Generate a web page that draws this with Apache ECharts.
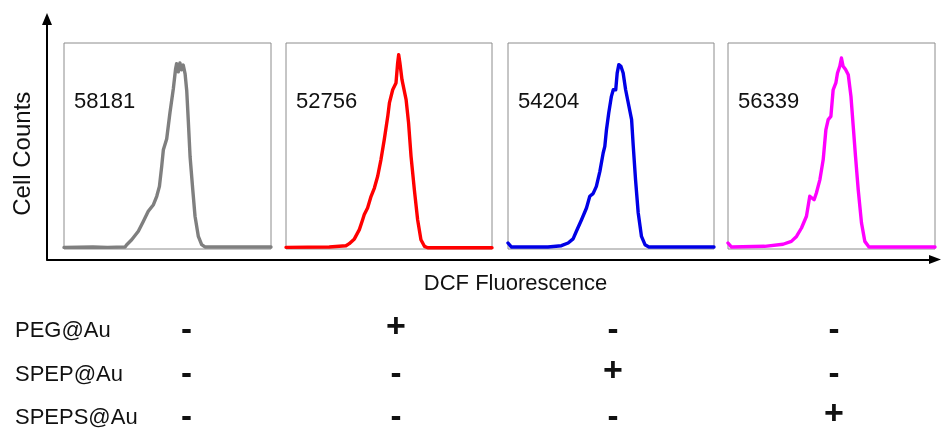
<!DOCTYPE html>
<html>
<head>
<meta charset="utf-8">
<script src="https://cdn.jsdelivr.net/npm/echarts@6/dist/echarts.min.js"></script>
<style>
  html, body { margin: 0; padding: 0; background: #ffffff; }
  #chart { width: 941px; height: 432px; }
</style>
</head>
<body>
<div id="chart"></div>
<script>
// Samples, their mean DCF fluorescence, and the treatment grid below the panels
const sampleNames = ['Control', 'PEG@Au', 'SPEP@Au', 'SPEPS@Au'];
const meanFluorescence = [58181, 52756, 54204, 56339];
const treatmentNames = ['PEG@Au', 'SPEP@Au', 'SPEPS@Au'];
const treatmentPEG = ['-', '+', '-', '-'];
const treatmentSPEP = ['-', '-', '+', '-'];
const treatmentSPEPS = ['-', '-', '-', '+'];

// Histogram traces: [fluorescence channel (% of range), cell count (% of max)]
const controlCurve = [[0,0.8],[14,1.0],[21,0.8],[29.5,1.0],[30.3,2.1],[32.7,4.5],[35.9,8.6],[38.3,13.4],[40.7,18.3],[43.2,21.5],[44.8,25.6],[46.1,30.4],[47.2,40.1],[48.0,48.2],[49.6,53.4],[51.2,66.3],[52.8,77.7],[53.9,87.4],[54.4,90.0],[55.2,86.0],[56.0,90.3],[56.8,87.0],[57.6,89.3],[58.5,85.0],[59.3,76.7],[60.1,61.2],[60.9,44.9],[62.2,28.8],[63.3,15.9],[64.9,6.1],[66.5,2.1],[68.1,1.0],[100,1.0]];
const pegCurve = [[0,0.8],[21.0,1.0],[29.1,1.6],[30.7,2.6],[33.2,4.9],[35.6,9.4],[37.2,14.2],[38.0,16.7],[39.6,19.9],[41.3,25.6],[42.9,29.6],[44.5,35.3],[46.1,43.4],[47.7,53.1],[49.4,64.4],[50.2,70.9],[51.8,77.3],[53.4,80.6],[54.2,90.3],[54.7,94.3],[55.3,90.3],[56.3,82.2],[58.3,72.5],[59.5,61.2],[60.7,45.0],[62.3,28.8],[63.9,14.2],[65.5,4.5],[67.2,1.3],[68.8,0.6],[100,0.6]];
const spepCurve = [[0,2.9],[1.6,1.0],[19.4,1.0],[25.9,1.6],[29.2,2.9],[31.6,4.9],[33.2,8.6],[35.7,14.2],[38.1,19.9],[39.7,25.6],[41.3,26.9],[42.9,30.4],[44.6,37.7],[46.2,46.6],[47.0,49.8],[47.8,57.9],[48.9,66.0],[50.2,74.1],[51.1,77.3],[52.3,77.3],[53.0,85.4],[53.8,89.5],[54.8,88.7],[55.9,85.4],[57.1,77.3],[58.7,69.3],[60.0,62.8],[60.8,50.0],[61.9,33.8],[63.2,17.6],[64.8,6.1],[66.5,2.1],[68.4,1.0],[100,1.0]];
const spepsCurve = [[0,2.9],[1.6,1.0],[17.7,1.3],[26.6,2.3],[30.6,3.7],[33.1,6.1],[35.5,10.2],[37.9,15.9],[39.5,25.6],[40.3,26.4],[41.6,23.9],[42.7,27.2],[44.4,33.7],[46.0,43.4],[47.3,58.0],[48.4,62.8],[49.7,64.4],[50.8,77.3],[52.1,80.6],[52.9,85.4],[54.0,88.7],[54.8,92.7],[55.6,88.7],[56.8,87.1],[58.1,84.6],[59.4,74.1],[60.5,59.5],[61.6,45.0],[62.9,28.8],[64.5,12.6],[66.1,3.7],[68.1,1.0],[100,1.0]];

const curves = [controlCurve, pegCurve, spepCurve, spepsCurve];
const treatmentRows = [treatmentPEG, treatmentSPEP, treatmentSPEPS];

// Layout
const FONT = "'Liberation Sans', Arial, sans-serif";
const lineColors = ['#7f7f7f', '#ff0000', '#0000e6', '#ff00ff'];
const panelLeft = [64, 286, 508, 728];
const panelWidth = [207, 206, 206, 207];
const panelTop = 43, panelHeight = 206;
const signColumnX = [186.5, 396, 613, 834];
const rowCenterY = [331, 375, 418];

const grids = [{ left: 47, right: 6, top: 19, bottom: 172.5, show: false }];
const xAxes = [{
  gridIndex: 0, type: 'value', min: 0, max: 1,
  axisLine: { show: true, symbol: ['none', 'triangle'], symbolSize: [9, 12], lineStyle: { color: '#000', width: 2 } },
  axisTick: { show: false }, axisLabel: { show: false }, splitLine: { show: false }
}];
const yAxes = [{
  gridIndex: 0, type: 'value', min: 0, max: 1,
  axisLine: { show: true, symbol: ['none', 'triangle'], symbolSize: [10, 12], lineStyle: { color: '#000', width: 2 } },
  axisTick: { show: false }, axisLabel: { show: false }, splitLine: { show: false }
}];
const series = [];

curves.forEach((curve, i) => {
  const g = i + 1;
  grids.push({
    left: panelLeft[i], top: panelTop, width: panelWidth[i], height: panelHeight,
    show: true, borderColor: '#8c8c8c', borderWidth: 1, backgroundColor: 'transparent'
  });
  xAxes.push({ gridIndex: g, type: 'value', min: 0, max: 100, show: false });
  yAxes.push({ gridIndex: g, type: 'value', min: 0, max: 100, show: false });
  series.push({
    name: sampleNames[i], type: 'line', xAxisIndex: g, yAxisIndex: g,
    data: curve, showSymbol: false, symbol: 'none', smooth: false, clip: true,
    lineStyle: { color: lineColors[i], width: 3.4, join: 'round', cap: 'round' },
    silent: true, animation: false
  });
});

const graphics = [];
// Mean fluorescence in each panel
meanFluorescence.forEach((v, i) => {
  graphics.push({
    type: 'text', left: panelLeft[i] + 10, top: 102 - 11,
    style: { text: String(v), font: '22px ' + FONT, fill: '#111' }
  });
});
// Axis titles
graphics.push({
  type: 'text', x: 23.4, y: 153.7, rotation: Math.PI / 2,
  style: { text: 'Cell Counts', font: '24px ' + FONT, fill: '#111', align: 'center', verticalAlign: 'middle' }
});
graphics.push({
  type: 'text', x: 515.5, y: 284,
  style: { text: 'DCF Fluorescence', font: '22px ' + FONT, fill: '#111', align: 'center', verticalAlign: 'middle' }
});
// Treatment table: '+' sits slightly above the '-' line
treatmentRows.forEach((row, r) => {
  graphics.push({
    type: 'text', x: 15, y: rowCenterY[r],
    style: { text: treatmentNames[r], font: '22px ' + FONT, fill: '#111', align: 'left', verticalAlign: 'middle' }
  });
  row.forEach((sign, c) => {
    const plus = sign === '+';
    graphics.push({
      type: 'text', x: signColumnX[c], y: plus ? rowCenterY[r] - 3 : rowCenterY[r] - 0.5,
      style: {
        text: sign, font: (plus ? 'bold 34px ' : 'bold 33px ') + FONT,
        fill: '#111', align: 'center', verticalAlign: 'middle'
      }
    });
  });
});

const chart = echarts.init(document.getElementById('chart'), null, { renderer: 'canvas' });
chart.setOption({
  animation: false,
  backgroundColor: '#ffffff',
  grid: grids,
  xAxis: xAxes,
  yAxis: yAxes,
  series: series,
  graphic: graphics
});
</script>
</body>
</html>
